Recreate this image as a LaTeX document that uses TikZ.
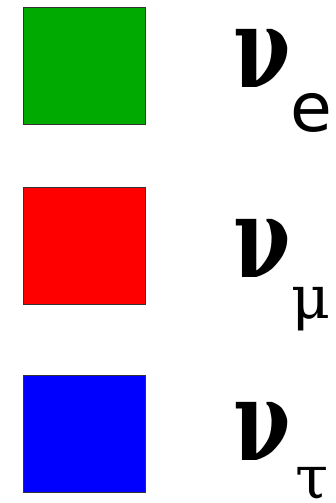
\documentclass[tikz,border=0pt]{standalone}
\usepackage{fontspec}
\usepackage{tikz}
\usetikzlibrary{positioning}
\newfontfamily\nufont{DejaVu Serif}
\newfontfamily\flavfont{DejaVu Sans}
\definecolor{nugreen}{HTML}{00AA00}
\definecolor{nured}{HTML}{FF0000}
\definecolor{nublue}{HTML}{0000FF}

\begin{document}
\begin{tikzpicture}[
    x=1pt, y=-1pt,
    flavbox/.style={rectangle, draw=black!80, line width=0.8pt, minimum width=122pt, minimum height=117pt, inner sep=0pt},
    nu/.style={anchor=base west, inner sep=0pt, xscale=0.74, transform shape, font=\nufont\bfseries\fontsize{112}{112}\selectfont},
    sub_sans/.style={anchor=base west, inner sep=0pt, font=\flavfont\fontsize{68}{68}\selectfont},
    sub_greek/.style={anchor=base west, inner sep=0pt, font=\nufont\fontsize{60}{60}\selectfont}
]
\useasboundingbox (0,0) rectangle (335,503);

\node[flavbox, fill=nugreen] (ebox) at (84,65.5) {};
\node[flavbox, fill=nured] (mubox) at (84,245.5) {};
\node[flavbox, fill=nublue] (taubox) at (84,433.5) {};

\node[nu] (nue) at (233,87) {ν};
\node[nu] (numu) at (233,277) {ν};
\node[nu] (nutau) at (233,460) {ν};

\node[sub_sans] (e) at (290,131) {e};
\node[sub_greek] (mu) at (291,318) {μ};
\node[sub_greek] (tau) at (295,498) {τ};

\end{tikzpicture}
\end{document}
